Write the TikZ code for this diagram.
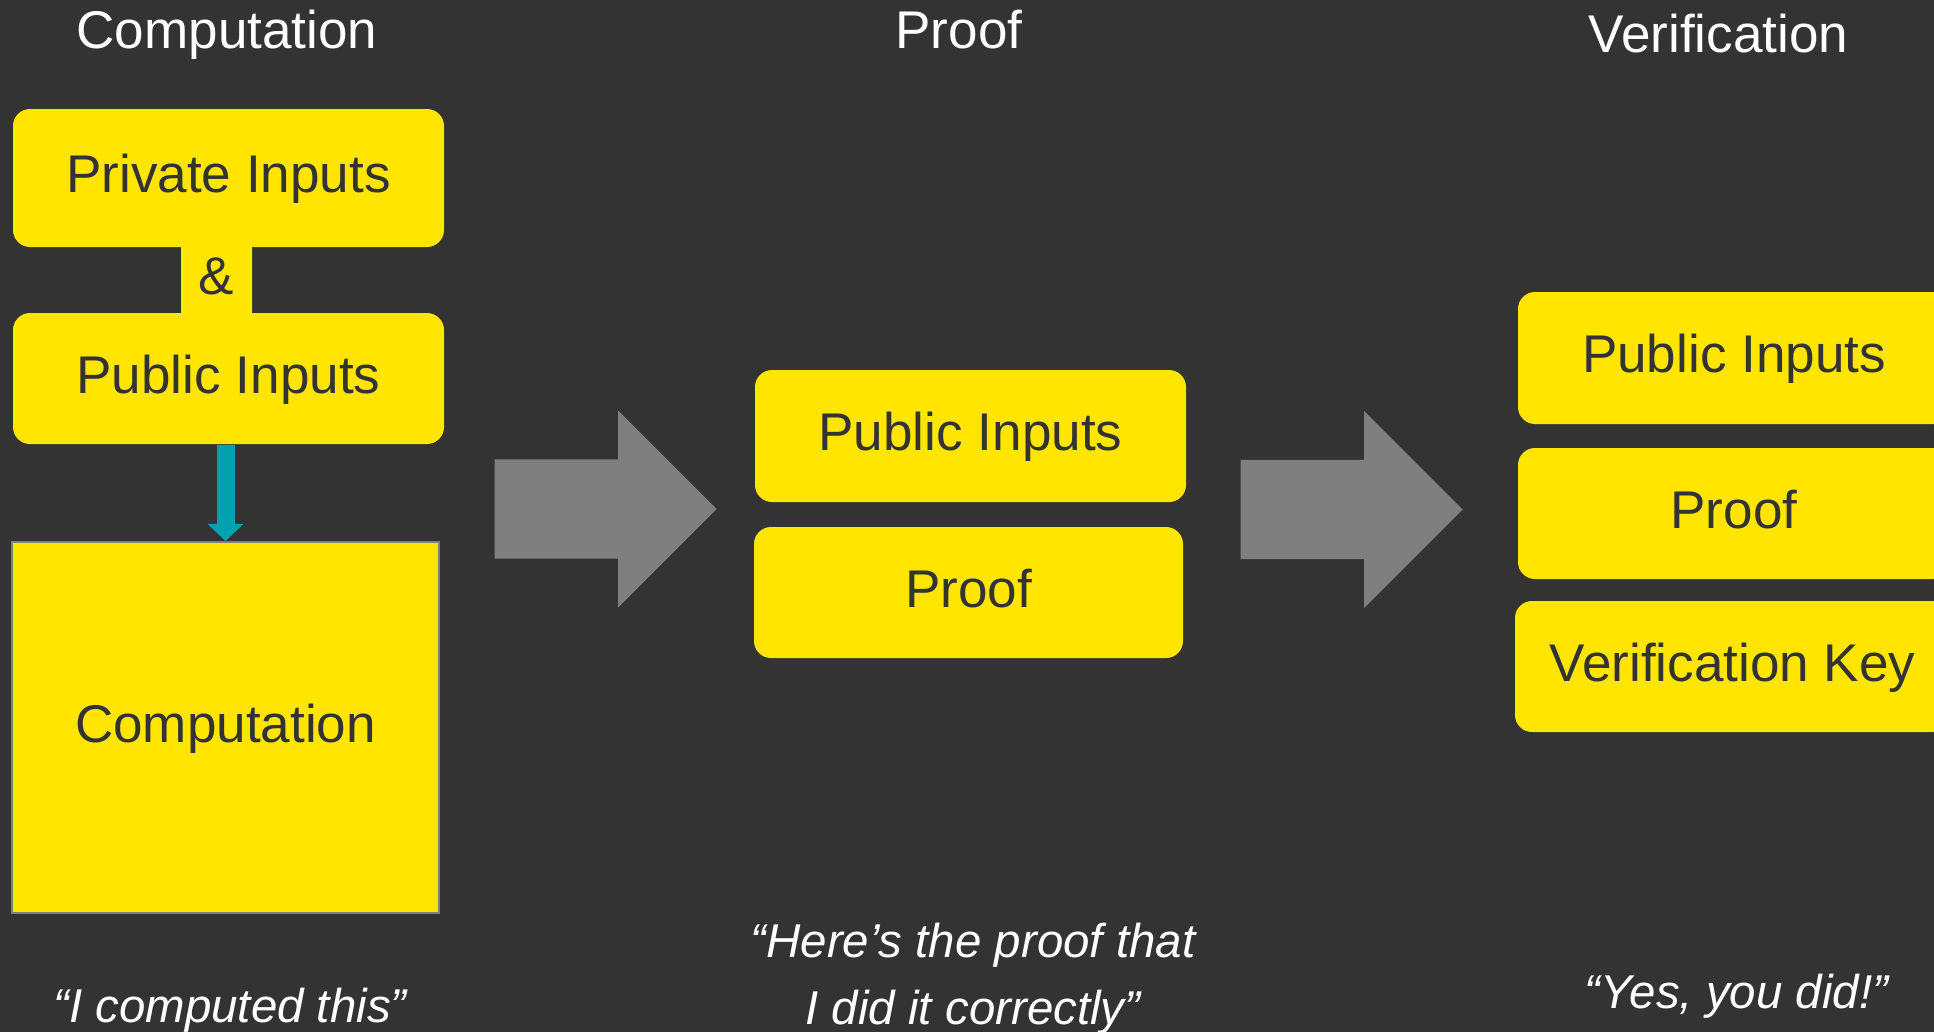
\documentclass[tikz,border=0pt]{standalone}
\usepackage{fontspec}
\setmainfont{Liberation Sans}
\usetikzlibrary{arrows.meta,shapes.arrows}
\definecolor{slide}{HTML}{333333}
\definecolor{zkyellow}{HTML}{FFE500}
\definecolor{zkteal}{HTML}{00A3AD}
\definecolor{zkgray}{HTML}{7F7F7F}
\begin{document}
\begin{tikzpicture}[
    box/.style={fill=zkyellow, text=slide, rounded corners=0.17cm, minimum width=4.31cm, minimum height=1.31cm,
      inner sep=0pt, font=\fontsize{15.1}{18}\selectfont, text height=11.6pt, text depth=3.2pt},
    title/.style={text=white, anchor=base, inner sep=0pt, font=\fontsize{15.1}{18}\selectfont},
    quote/.style={text=white, anchor=base, inner sep=0pt, align=center, font=\fontsize{13.5}{18.8}\selectfont\itshape},
    bigarrow/.style={single arrow, fill=zkgray, anchor=tail, inner xsep=0pt, inner ysep=0.49cm, minimum height=2.22cm,
      single arrow head extend=0.49cm}
  ]
        \fill [slide] (0,0) rectangle (19.34,10.32);
        \useasboundingbox (0,0) rectangle (19.34,10.32);
        % column titles
        \node [title] (titlecomp) at (2.27, 9.84) {Computation};
        \node [title] (titleproof) at (9.59, 9.84) {Proof};
        \node [title] (titleverif) at (17.185, 9.80) {Verification};
        % computation
        \node [box, minimum width=0.71cm, minimum height=0.8cm, rounded corners=0.08cm] (amp) at (2.165, 7.52) {\&};
        \node [box, minimum height=1.38cm] (priv) at (2.285, 8.54) {Private Inputs};
        \node [box] (publeft) at (2.285, 6.535) {Public Inputs};
        \node [box, rounded corners=0pt, draw=zkgray, line width=0.6pt, minimum width=4.27cm, minimum height=3.71cm] (comp) at (2.255, 3.045) {Computation};
        \draw [zkteal, line width=0.18cm, -{Triangle[width=0.36cm, length=0.17cm, line width=0pt]}] (comp.north |- publeft.south) -- (comp.north);
        \node [bigarrow] (arrow1) at (4.94, 5.23) {};
        % proof
        \node [box, minimum height=1.32cm] (pubmid) at (9.705, 5.96) {Public Inputs};
        \node [box, minimum width=4.29cm] (proofmid) at (9.685, 4.395) {Proof};
        \node [bigarrow] (arrow2) at (12.40, 5.225) {};
        % verification
        \node [box, minimum width=4.32cm, minimum height=1.32cm] (pubright) at (17.34, 6.74) {Public Inputs};
        \node [box, minimum width=4.32cm] (proofright) at (17.34, 5.185) {Proof};
        \node [box, minimum width=4.35cm] (vkey) at (17.325, 3.655) {Verification Key};
        % quotes
        \node [quote] (quotecomp) at (2.30, 0.10) {“I computed this”};
        \node [quote] (quoteproof) at (9.73, 0.08) {“Here’s the proof that\\I did it correctly”};
        \node [quote] (quoteverif) at (17.365, 0.24) {“Yes, you did!”};
    \end{tikzpicture}
\end{document}
